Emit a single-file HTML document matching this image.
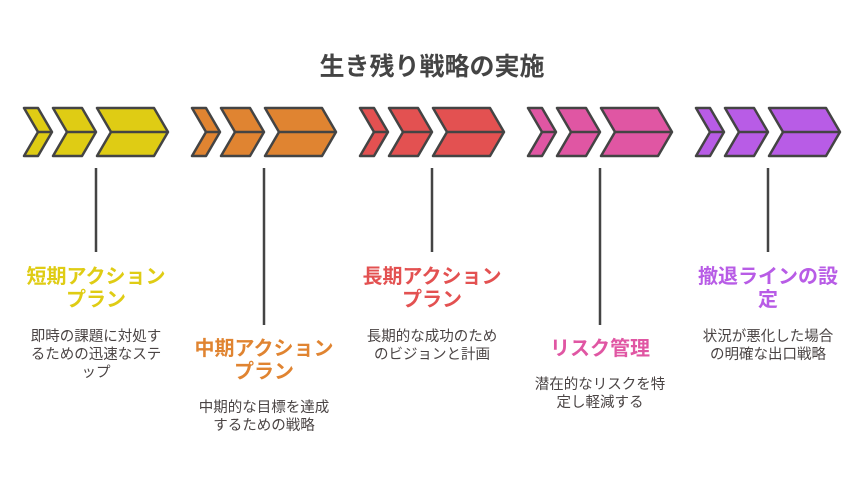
<!DOCTYPE html>
<html><head><meta charset="utf-8"><style>
html,body{margin:0;padding:0;background:#fff;}
svg{display:block;}
text{font-family:"Liberation Sans","Noto Sans CJK JP",sans-serif;text-anchor:middle;}
.t{font-size:25px;font-weight:bold;fill:#444;}
.h{font-size:20px;font-weight:bold;}
.d{font-size:14.5px;fill:#4a4444;}
</style></head><body>
<svg width="864" height="480" viewBox="0 0 864 480" xmlns="http://www.w3.org/2000/svg">
<defs>
<g id="ch" stroke="#444" stroke-width="2.5" stroke-linejoin="round">
<polygon points="0,108 14,108 28,132 14,156 0,156 14,132"/>
<polygon points="29,108 58,108 72,132 58,156 29,156 43,132"/>
<polygon points="73,108 130,108 144,132 130,156 73,156 87,132"/>
<line x1="14" y1="132" x2="28" y2="132"/>
<line x1="43" y1="132" x2="72" y2="132"/>
<line x1="87" y1="132" x2="144" y2="132"/>
</g>
</defs>
<text class="t" x="432" y="75">生き残り戦略の実施</text>
<use href="#ch" x="24" fill="#DFCC14"/>
<use href="#ch" x="192" fill="#E08431"/>
<use href="#ch" x="360" fill="#E35151"/>
<use href="#ch" x="528" fill="#E056A3"/>
<use href="#ch" x="696" fill="#B85CE6"/>
<g stroke="#444" stroke-width="2.5">
<line x1="96" y1="168" x2="96" y2="252"/>
<line x1="264" y1="168" x2="264" y2="325"/>
<line x1="432" y1="168" x2="432" y2="252"/>
<line x1="600" y1="168" x2="600" y2="325"/>
<line x1="768" y1="168" x2="768" y2="252"/>
</g>
<text class="h" fill="#DFCC14" x="96" y="283">短期アクション</text>
<text class="h" fill="#DFCC14" x="96" y="306">プラン</text>
<text class="d" x="96" y="341">即時の課題に対処す</text>
<text class="d" x="96" y="359">るための迅速なステ</text>
<text class="d" x="96" y="377">ップ</text>

<text class="h" fill="#E08431" x="264" y="355">中期アクション</text>
<text class="h" fill="#E08431" x="264" y="378">プラン</text>
<text class="d" x="264" y="412">中期的な目標を達成</text>
<text class="d" x="264" y="430">するための戦略</text>

<text class="h" fill="#E35151" x="432" y="283">長期アクション</text>
<text class="h" fill="#E35151" x="432" y="306">プラン</text>
<text class="d" x="432" y="341">長期的な成功のため</text>
<text class="d" x="432" y="359">のビジョンと計画</text>

<text class="h" fill="#E056A3" x="600" y="355">リスク管理</text>
<text class="d" x="600" y="389">潜在的なリスクを特</text>
<text class="d" x="600" y="407">定し軽減する</text>

<text class="h" fill="#B85CE6" x="768" y="283">撤退ラインの設</text>
<text class="h" fill="#B85CE6" x="768" y="306">定</text>
<text class="d" x="768" y="341">状況が悪化した場合</text>
<text class="d" x="768" y="359">の明確な出口戦略</text>
</svg>
</body></html>
